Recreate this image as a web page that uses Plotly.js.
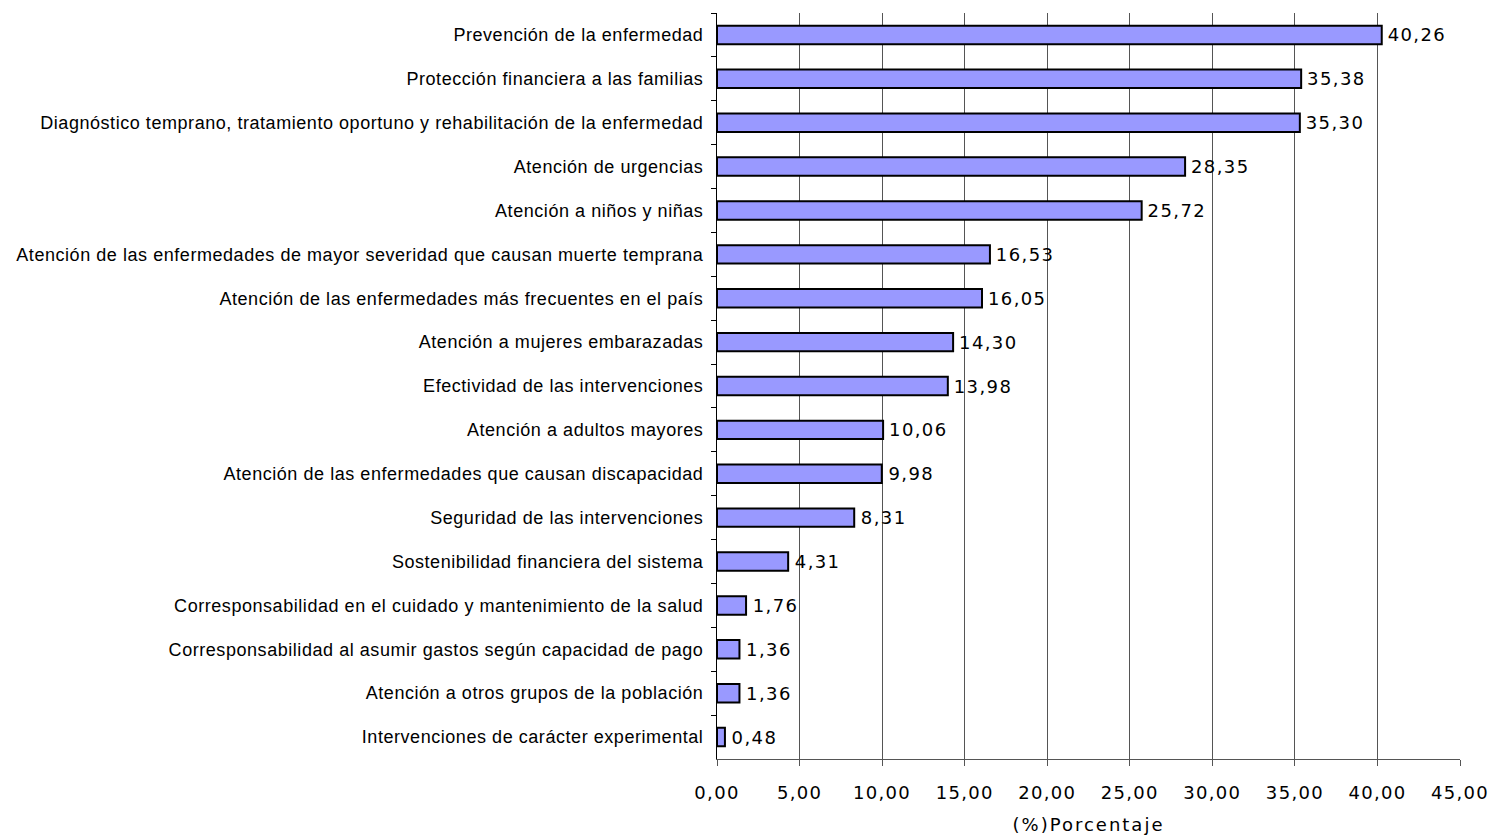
<!DOCTYPE html>
<html>
<head>
<meta charset="utf-8">
<script src="https://cdn.plot.ly/plotly-3.0.1.min.js"></script>
<style>
html,body{margin:0;padding:0;background:#fff;}
#chart{width:1494px;height:838px;}
#chart .xtick text { letter-spacing: 1.3px; }
#chart .xtitle { letter-spacing: 2px; }
#chart .bartext { letter-spacing: 1.4px; }
#chart .ytick text { letter-spacing: 0.55px; }
</style>
</head>
<body>
<div id="chart"></div>
<script>
const categories = [
  "Prevención de la enfermedad",
  "Protección financiera a las familias",
  "Diagnóstico temprano, tratamiento oportuno y rehabilitación de la enfermedad",
  "Atención de urgencias",
  "Atención a niños y niñas",
  "Atención de las enfermedades de mayor severidad que causan muerte temprana",
  "Atención de las enfermedades más frecuentes en el país",
  "Atención a mujeres embarazadas",
  "Efectividad de las intervenciones",
  "Atención a adultos mayores",
  "Atención de las enfermedades que causan discapacidad",
  "Seguridad de las intervenciones",
  "Sostenibilidad financiera del sistema",
  "Corresponsabilidad en el cuidado y mantenimiento de la salud",
  "Corresponsabilidad al asumir gastos según capacidad de pago",
  "Atención a otros grupos de la población",
  "Intervenciones de carácter experimental"
];
const values = [40.26, 35.38, 35.30, 28.35, 25.72, 16.53, 16.05, 14.30, 13.98, 10.06, 9.98, 8.31, 4.31, 1.76, 1.36, 1.36, 0.48];
const tickValues = [0, 5, 10, 15, 20, 25, 30, 35, 40, 45];
const tickLabels = ["0,00", "5,00", "10,00", "15,00", "20,00", "25,00", "30,00", "35,00", "40,00", "45,00"];
const xTitle = "(%)Porcentaje";

const labels = values.map(v => '<span style="color:rgba(0,0,0,0)">·</span>' + v.toFixed(2).replace('.', ','));

const trace = {
  type: 'bar',
  orientation: 'h',
  x: values,
  y: categories,
  text: labels,
  textposition: 'outside',
  constraintext: 'none',
  cliponaxis: false,
  textfont: {family: 'DejaVu Sans', size: 18, color: '#000'},
  marker: {color: '#9999FF', line: {color: '#000', width: 2}},
  hoverinfo: 'x+y'
};

const layout = {
  width: 1494, height: 838,
  margin: {l: 717, r: 34, t: 13, b: 79, pad: 0},
  paper_bgcolor: '#fff', plot_bgcolor: '#fff',
  bargap: 0.58,
  showlegend: false,
  xaxis: {
    range: [0, 45],
    tickvals: tickValues,
    ticktext: tickLabels,
    ticks: 'outside', ticklen: 6, tickcolor: '#555', tickwidth: 1,
    ticklabelstandoff: 11,
    showgrid: true, gridcolor: '#555', gridwidth: 1,
    showline: true, linecolor: '#555', linewidth: 1,
    zeroline: false,
    tickfont: {family: 'DejaVu Sans', size: 18, color: '#000'},
    title: {text: xTitle, font: {family: 'DejaVu Sans', size: 18, color: '#000'}, standoff: 16}
  },
  yaxis: {
    autorange: 'reversed',
    type: 'category',
    tickson: 'boundaries',
    ticks: 'outside', ticklen: 5, tickcolor: '#000',
    ticklabelstandoff: 9,
    showline: true, linecolor: '#000', linewidth: 1,
    showgrid: false, zeroline: false,
    tickfont: {family: 'Liberation Sans', size: 18, color: '#000'}
  },
  font: {family: 'Liberation Sans', color: '#000'}
};

Plotly.newPlot('chart', [trace], layout, {displayModeBar: false, staticPlot: true});
</script>
</body>
</html>
